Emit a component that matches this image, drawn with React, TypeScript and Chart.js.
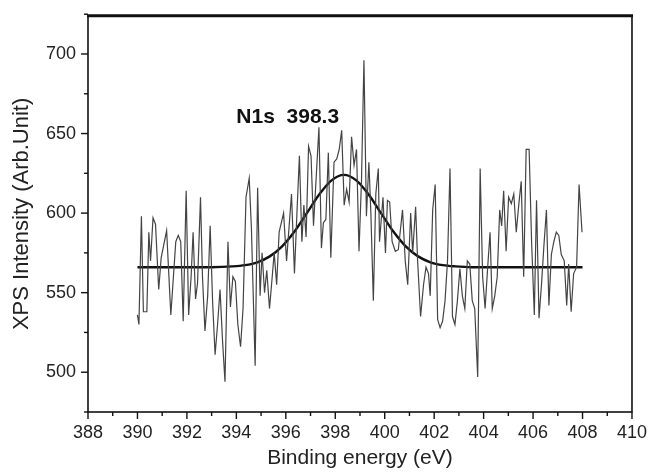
import React, { useEffect, useRef } from 'react';
import { Chart, registerables } from 'chart.js';

Chart.register(...registerables);

// Measured spectrum (binding energy in eV, intensity in arb. units)
const energy = [
  390.0, 390.06, 390.16, 390.24, 390.38, 390.46, 390.53, 390.63, 390.73, 390.86,
  390.96, 391.18, 391.35, 391.55, 391.65, 391.75, 391.85, 391.97, 392.07, 392.17,
  392.25, 392.35, 392.43, 392.55, 392.63, 392.73, 392.84, 392.94, 393.04, 393.14,
  393.24, 393.34, 393.44, 393.54, 393.66, 393.76, 393.86, 393.96, 394.06, 394.17,
  394.27, 394.39, 394.52, 394.61, 394.68, 394.76, 394.86, 394.96, 395.04, 395.14,
  395.23, 395.34, 395.45, 395.53, 395.63, 395.73, 395.91, 396.03, 396.23, 396.35,
  396.45, 396.55, 396.65, 396.73, 396.82, 396.92, 397.02, 397.12, 397.22, 397.34,
  397.44, 397.52, 397.62, 397.72, 397.82, 397.95, 398.06, 398.16, 398.26, 398.36,
  398.46, 398.56, 398.66, 398.76, 398.86, 398.96, 399.06, 399.16, 399.26, 399.36,
  399.44, 399.54, 399.64, 399.74, 399.79, 399.93, 400.03, 400.11, 400.2, 400.3,
  400.43, 400.55, 400.72, 400.83, 400.93, 401.05, 401.13, 401.25, 401.33, 401.45,
  401.57, 401.67, 401.77, 401.84, 401.94, 402.04, 402.14, 402.24, 402.34, 402.44,
  402.54, 402.64, 402.74, 402.84, 402.94, 403.04, 403.14, 403.24, 403.34, 403.44,
  403.54, 403.64, 403.76, 403.86, 403.96, 404.06, 404.16, 404.26, 404.35, 404.45,
  404.55, 404.65, 404.73, 404.81, 404.91, 405.01, 405.12, 405.22, 405.32, 405.42,
  405.52, 405.62, 405.72, 405.84, 405.94, 406.05, 406.14, 406.24, 406.34, 406.44,
  406.54, 406.64, 406.74, 406.84, 406.94, 407.04, 407.14, 407.26, 407.36, 407.44,
  407.54, 407.64, 407.76, 407.86, 407.98
];
const intensity = [
  536, 530, 598, 538, 538, 588, 570, 597, 593, 552,
  572, 589, 536, 582, 586, 582, 532, 614, 536, 560,
  588, 546, 556, 610, 560, 526, 548, 592, 544, 511,
  530, 552, 520, 494, 582, 541, 560, 557, 530, 516,
  540, 610, 622, 590, 550, 504, 616, 548, 575, 550,
  564, 540, 560, 575, 555, 588, 600, 570, 612, 562,
  600, 636, 582, 605, 585, 642, 636, 592, 620, 654,
  578, 594, 596, 638, 572, 632, 634, 640, 652, 605,
  615, 607, 648, 630, 640, 576, 620, 696, 598, 632,
  600, 545, 612, 628, 582, 610, 575, 608, 607, 582,
  576, 577, 602, 570, 555, 600, 575, 604, 570, 535,
  555, 566, 562, 548, 602, 618, 533, 528, 532, 545,
  570, 628, 535, 530, 545, 565, 548, 540, 570, 568,
  545, 540, 497, 628, 560, 540, 565, 588, 540, 548,
  560, 602, 592, 614, 576, 610, 606, 612, 588, 605,
  620, 560, 640, 640, 582, 536, 608, 534, 555, 580,
  602, 542, 574, 582, 588, 586, 574, 570, 542, 568,
  538, 562, 566, 618, 588
];

// Gaussian fit curve, read at sample points
const fitEnergy = [
  390.0, 393.0, 393.85, 394.35, 394.85, 395.35, 395.85, 396.35, 396.85, 397.35,
  397.85, 398.35, 398.85, 399.35, 399.85, 400.35, 400.85, 401.35, 401.85, 402.35,
  402.85, 403.5, 408.0
];
const fitIntensity = [
  566, 566, 566.5, 567.3, 569.1, 572.8, 579.1, 588.4, 600, 611.7,
  620.6, 624, 620.6, 611.7, 600, 588.4, 579.1, 572.8, 569.1, 567.3,
  566.5, 566, 566
];

const xMajorTicks = [388, 390, 392, 394, 396, 398, 400, 402, 404, 406, 408, 410];
const xMinorTicks = [389, 391, 393, 395, 397, 399, 401, 403, 405, 407, 409];
const yMajorTicks = [500, 550, 600, 650, 700];
const yMinorTicks = [475, 525, 575, 625, 675, 725];

const peakLabel = 'N1s  398.3';
const peakLabelAt = { x: 394.0, y: 660 };

const FONT = '"Liberation Sans", Arial, Helvetica, sans-serif';

const framePlugin = {
  id: 'frameTicks',
  afterDraw(chart: any) {
    const { ctx, chartArea: a, scales } = chart;
    const xs = scales.x;
    const ys = scales.y;
    ctx.save();
    ctx.strokeStyle = '#111';
    ctx.lineWidth = 1.6;
    ctx.strokeRect(a.left, a.top, a.right - a.left, a.bottom - a.top);
    ctx.lineWidth = 3;
    ctx.beginPath();
    ctx.moveTo(a.left - 1, a.top);
    ctx.lineTo(a.right + 1, a.top);
    ctx.stroke();
    ctx.lineWidth = 1.4;
    const seg = (x1: number, y1: number, x2: number, y2: number) => {
      ctx.beginPath();
      ctx.moveTo(x1, y1);
      ctx.lineTo(x2, y2);
      ctx.stroke();
    };
    xMajorTicks.forEach((v) => { const p = xs.getPixelForValue(v); seg(p, a.bottom, p, a.bottom + 7); });
    xMinorTicks.forEach((v) => { const p = xs.getPixelForValue(v); seg(p, a.bottom, p, a.bottom + 4); });
    yMajorTicks.forEach((v) => { const p = ys.getPixelForValue(v); seg(a.left - 7, p, a.left, p); });
    yMinorTicks.forEach((v) => { const p = ys.getPixelForValue(v); seg(a.left - 4, p, a.left, p); });

    ctx.font = `bold 21px ${FONT}`;
    ctx.fillStyle = '#111';
    ctx.textAlign = 'left';
    ctx.textBaseline = 'middle';
    ctx.fillText(peakLabel, xs.getPixelForValue(peakLabelAt.x), ys.getPixelForValue(peakLabelAt.y));
    ctx.restore();
  },
};

export default function App() {
  const ref = useRef<HTMLCanvasElement | null>(null);

  useEffect(() => {
    if (!ref.current) return;
    const chart = new Chart(ref.current, {
      type: 'line',
      data: {
        datasets: [
          {
            label: 'Spectrum',
            data: energy.map((e, i) => ({ x: e, y: intensity[i] })),
            borderColor: '#444',
            borderWidth: 1.2,
            pointRadius: 0,
            tension: 0,
            fill: false,
          },
          {
            label: 'Fit',
            data: fitEnergy.map((e, i) => ({ x: e, y: fitIntensity[i] })),
            borderColor: '#111',
            borderWidth: 2.4,
            pointRadius: 0,
            cubicInterpolationMode: 'monotone',
            fill: false,
          },
        ],
      },
      options: {
        responsive: false,
        animation: false,
        devicePixelRatio: 1,
        layout: { padding: { top: 14, right: 17, left: 0, bottom: 0 } },
        plugins: {
          legend: { display: false },
          tooltip: { enabled: false },
        },
        scales: {
          x: {
            type: 'linear',
            min: 388,
            max: 410,
            afterFit: (s: any) => { s.height = 60; },
            afterBuildTicks: (s: any) => { s.ticks = xMajorTicks.map((v) => ({ value: v })); },
            ticks: {
              autoSkip: false,
              maxRotation: 0,
              padding: 3,
              color: '#222',
              font: { family: FONT, size: 18 },
            },
            grid: { color: 'rgba(0,0,0,0)', drawOnChartArea: false, drawTicks: true, tickLength: 7 },
            border: { display: false },
            title: {
              display: true,
              text: 'Binding energy (eV)',
              color: '#222',
              font: { family: FONT, size: 21 },
              padding: { top: 0, bottom: 1 },
            },
          },
          y: {
            type: 'linear',
            min: 475,
            max: 724,
            afterFit: (s: any) => { s.width = 88; },
            afterBuildTicks: (s: any) => { s.ticks = yMajorTicks.map((v) => ({ value: v })); },
            ticks: {
              autoSkip: false,
              padding: 5,
              color: '#222',
              font: { family: FONT, size: 18 },
            },
            grid: { color: 'rgba(0,0,0,0)', drawOnChartArea: false, drawTicks: true, tickLength: 7 },
            border: { display: false },
            title: {
              display: true,
              text: 'XPS Intensity (Arb.Unit)',
              color: '#222',
              font: { family: FONT, size: 22 },
              padding: { top: 9, bottom: 0 },
            },
          },
        },
      },
      plugins: [framePlugin],
    } as any);
    return () => chart.destroy();
  }, []);

  return (
    <div style={{ position: 'absolute', left: 0, top: 0, width: 650, height: 472, background: '#fff' }}>
      <canvas ref={ref} width={650} height={472} />
    </div>
  );
}
